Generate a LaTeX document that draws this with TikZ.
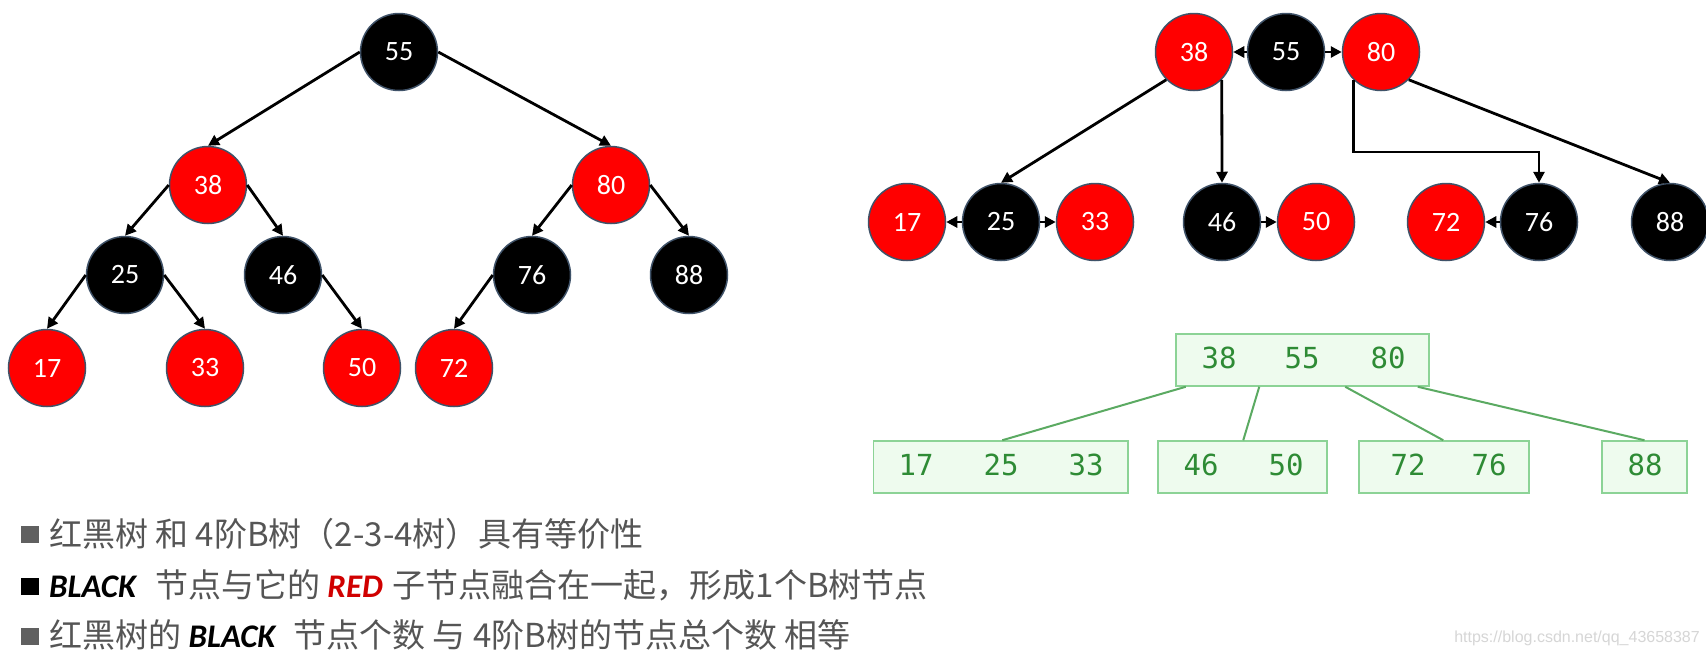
\documentclass[tikz,border=0pt]{standalone}
\usepackage{fontspec}
\usetikzlibrary{arrows.meta,calc}
\newfontfamily\cjkf{Noto Sans CJK SC}
\newfontfamily\calf{Carlito}
\newfontfamily\monof{DejaVu Sans Mono}
\newfontfamily\wmf{Liberation Sans}
\definecolor{nodeedge}{HTML}{3F5268}
\definecolor{rbred}{HTML}{FF0000}
\definecolor{txtgray}{HTML}{555555}
\definecolor{bulgray}{HTML}{606060}
\definecolor{bfill}{HTML}{EEFBEE}
\definecolor{bedge}{HTML}{8CD396}
\definecolor{btext}{HTML}{2E8B35}
\definecolor{bline}{HTML}{5BAA62}
\definecolor{redtxt}{HTML}{D00000}
\newcommand\blkword[1]{{\calf\bfseries\itshape\color{black}#1}}
\newcommand\redword[1]{{\calf\bfseries\itshape\color{redtxt}#1}}
\begin{document}
\begin{tikzpicture}[x=1pt,y=-1pt,
 rb/.style={circle,draw=nodeedge,line width=1.5pt,minimum size=77pt,inner sep=0pt,text=white,font=\calf\fontsize{28}{30}\selectfont},
 rn/.style={rb,fill=rbred},
 bn/.style={rb,fill=black},
 edge/.style={line width=2.8pt,-{Triangle[length=11pt,width=11pt]}},
 bbox/.style={draw=bedge,fill=bfill,line width=1.5pt,inner sep=0pt,minimum height=52pt},
 bnum/.style={text=btext,font=\monof\fontsize{29}{30}\selectfont,inner sep=0pt},
 bl/.style={draw=bline,line width=2pt},
 bul/.style={minimum width=18pt,minimum height=17pt,inner sep=0pt},
 txtline/.style={anchor=base west,inner sep=0pt,text=txtgray,font=\cjkf\fontsize{33}{38}\selectfont},
]
\useasboundingbox (0,0) rectangle (1706,665);
\fill[white] (0,0) rectangle (1706,665);

% ---------- left red-black tree ----------
\node[bn] (l55) at (399,52) {55};
\node[rn] (l38) at (208,185) {38};
\node[rn] (l80) at (611,185) {80};
\node[bn] (l25) at (125,275) {25};
\node[bn] (l46) at (283,275) {46};
\node[bn] (l76) at (532,275) {76};
\node[bn] (l88) at (689,275) {88};
\node[rn] (l17) at (47,368) {17};
\node[rn] (l33) at (205,368) {33};
\node[rn] (l50) at (362,368) {50};
\node[rn] (l72) at (454,368) {72};
\draw[edge] (l55.west) -- (l38.north);
\draw[edge] (l55.east) -- (l80.north);
\draw[edge] (l38.west) -- (l25.north);
\draw[edge] (l38.east) -- (l46.north);
\draw[edge] (l80.west) -- (l76.north);
\draw[edge] (l80.east) -- (l88.north);
\draw[edge] (l25.west) -- (l17.north);
\draw[edge] (l25.east) -- (l33.north);
\draw[edge] (l46.east) -- (l50.north);
\draw[edge] (l76.west) -- (l72.north);

% ---------- right red-black tree (merged) ----------
\node[rn] (r38) at (1194,52) {38};
\node[bn] (r55) at (1286,52) {55};
\node[rn] (r80) at (1381,52) {80};
\node[rn] (r17) at (907,222) {17};
\node[bn] (r25) at (1001,222) {25};
\node[rn] (r33) at (1095,222) {33};
\node[bn] (r46) at (1222,222) {46};
\node[rn] (r50) at (1316,222) {50};
\node[rn] (r72) at (1446,222) {72};
\node[bn] (r76) at (1539,222) {76};
\node[bn] (r88) at (1670,222) {88};
\coordinate (rk) at (1539,152);
\draw[edge] (r55) -- (r38);
\draw[edge] (r55) -- (r80);
\draw[edge] (r38.south west) -- (r25.north);
\draw[edge] (r38.south east) -- (r46.north);
\draw[edge] (r80.south west) |- (rk) -- (r76.north);
\draw[edge] (r80.south east) -- (r88.north);
\draw[edge] (r25) -- (r17);
\draw[edge] (r25) -- (r33);
\draw[edge] (r46) -- (r50);
\draw[edge] (r76) -- (r72);

% ---------- B-tree ----------
\node[bbox,minimum width=253pt] (tb) at (1302.5,360) {};
\node[bbox,minimum width=254.5pt] (b1) at (1000.75,467) {};
\node[bbox,minimum width=169pt] (b2) at (1242.5,467) {};
\node[bbox,minimum width=170pt] (b3) at (1444,467) {};
\node[bbox,minimum width=85pt] (b4) at (1644.5,467) {};
\draw[bl] ($(tb.south west)+(10.5,0)$) -- ($(b1.north west)+(129.5,0)$);
\draw[bl] ($(tb.south west)+(84,0)$) -- ($(b2.north west)+(86,0)$);
\draw[bl] ($(tb.south west)+(170,0)$) -- ($(b3.north west)+(85,0)$);
\draw[bl] ($(tb.south west)+(242.5,0)$) -- (b4.north);
\node[bnum] (t38) at (1219,358) {38};
\node[bnum] (t55) at (1302,358) {55};
\node[bnum] (t80) at (1388,358) {80};
\node[bnum] (n17) at (916,465) {17};
\node[bnum] (n25) at (1001,465) {25};
\node[bnum] (n33) at (1086,465) {33};
\node[bnum] (n46) at (1201,465) {46};
\node[bnum] (n50) at (1286,465) {50};
\node[bnum] (n72) at (1408,465) {72};
\node[bnum] (n76) at (1489,465) {76};
\node[bnum] (n88) at (1645,465) {88};

% ---------- text lines ----------
\node[bul,fill=bulgray] (q1) at (30,534) {};
\node[bul,fill=black] (q2) at (30,586) {};
\node[bul,fill=bulgray] (q3) at (30,636) {};
\node[txtline] (s1) at (49,546) {红黑树 和 4阶B树（2-3-4树）具有等价性};
\node[txtline] (s2) at (49,597) {\blkword{BLACK}\hspace{19pt}节点与它的 \redword{RED}\hspace{10pt}子节点融合在一起，形成1个B树节点};
\node[txtline] (s3) at (49,647) {红黑树的 \blkword{BLACK}\hspace{18pt}节点个数 与 4阶B树的节点总个数 相等};

\node[anchor=east,inner sep=0pt,text=black!16,font=\wmf\fontsize{16}{18}\selectfont] (wm) at (1700,638) {https://blog.csdn.net/qq\_43658387};
\end{tikzpicture}
\end{document}
